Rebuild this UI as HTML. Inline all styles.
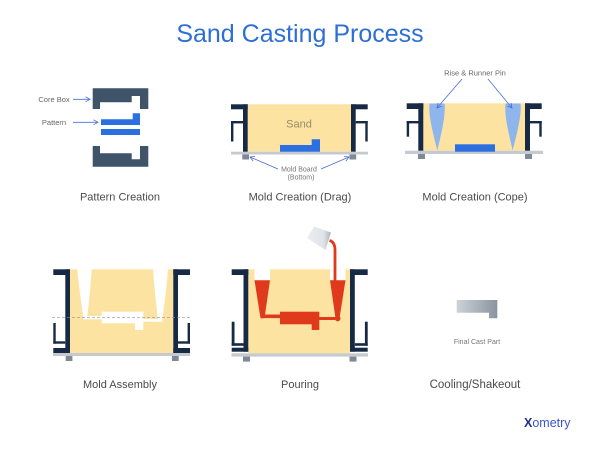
<!DOCTYPE html>
<html><head><meta charset="utf-8"><style>
html,body{margin:0;padding:0;background:#fff;}
svg{display:block;}
text{font-family:"Liberation Sans",sans-serif;}
</style></head><body>
<svg width="600" height="449" viewBox="0 0 600 449" xmlns="http://www.w3.org/2000/svg">
<defs>
<marker id="ah" markerWidth="6" markerHeight="6" refX="5" refY="3" orient="auto" markerUnits="userSpaceOnUse">
<path d="M0.5,0.5 L5,3 L0.5,5.5" fill="none" stroke="#4a6fd6" stroke-width="0.8"/>
</marker>
<linearGradient id="gp" x1="0" y1="0" x2="1" y2="0">
<stop offset="0" stop-color="#cdd2d8"/><stop offset="1" stop-color="#8a949f"/>
</linearGradient>
<linearGradient id="gl" x1="0" y1="0" x2="1" y2="0">
<stop offset="0" stop-color="#eceef1"/><stop offset="0.7" stop-color="#dfe3e7"/><stop offset="1" stop-color="#aab2bb"/>
</linearGradient>
</defs>
<rect width="600" height="449" fill="#fff"/>
<text x="300" y="42" text-anchor="middle" font-size="25" fill="#2d6fd6">Sand Casting Process</text>

<!-- Pattern Creation -->
<path d="M92.7,88.3 H148.3 V109 H140 V96 H131.7 V102.3 H100 V109 H92.7 Z" fill="#3f5468"/>
<path d="M92.7,166.7 H148.3 V146 H140 V159.3 H131.7 V153.3 H100 V146 H92.7 Z" fill="#3f5468"/>
<path d="M101,119.3 H132.7 V113.3 H140 V125 H101 Z" fill="#2c6fe0"/>
<rect x="101" y="129" width="39" height="6" fill="#2c6fe0"/>
<text x="54" y="102" text-anchor="middle" font-size="7.5" fill="#666">Core Box</text>
<text x="54" y="125" text-anchor="middle" font-size="7.5" fill="#666">Pattern</text>
<line x1="73" y1="99.3" x2="90" y2="99.3" stroke="#4a6fd6" stroke-width="0.8" marker-end="url(#ah)"/>
<line x1="73" y1="122.3" x2="98" y2="122.3" stroke="#4a6fd6" stroke-width="0.8" marker-end="url(#ah)"/>
<text x="120" y="200.5" text-anchor="middle" font-size="11" fill="#4a4a4a">Pattern Creation</text>

<!-- Drag -->
<rect x="247.7" y="104.3" width="103.3" height="47.4" fill="#fce3a2"/>
<rect x="231" y="151.7" width="137" height="2.8" fill="#c5cad0"/>
<rect x="242.3" y="154.5" width="6.7" height="5" fill="#7f8a96"/>
<rect x="349.5" y="154.5" width="6.7" height="5" fill="#7f8a96"/>
<g fill="#172a45">
<rect x="231" y="104.3" width="16.7" height="5"/>
<rect x="243" y="104.3" width="4.7" height="47.4"/>
<rect x="231" y="121" width="12" height="2.4"/>
<rect x="231" y="121" width="2.4" height="20.5"/>
<rect x="351" y="104.3" width="16.7" height="5"/>
<rect x="351" y="104.3" width="4.7" height="47.4"/>
<rect x="355.7" y="121" width="12" height="2.4"/>
<rect x="365.3" y="121" width="2.4" height="20.5"/>
</g>
<path d="M280,145 H311.7 V139.3 H320 V151.7 H280 Z" fill="#2c6fe0"/>
<text x="299" y="127.5" text-anchor="middle" font-size="11" fill="#9a8a68">Sand</text>
<text x="299" y="171.5" text-anchor="middle" font-size="7" fill="#777">Mold Board</text>
<text x="301" y="179.5" text-anchor="middle" font-size="7" fill="#777">(Bottom)</text>
<line x1="278" y1="169" x2="250" y2="157" stroke="#4a6fd6" stroke-width="0.8" marker-end="url(#ah)"/>
<line x1="321" y1="169" x2="349" y2="157" stroke="#4a6fd6" stroke-width="0.8" marker-end="url(#ah)"/>
<text x="300" y="200.5" text-anchor="middle" font-size="11" fill="#4a4a4a">Mold Creation (Drag)</text>

<!-- Cope -->
<rect x="423.3" y="103.3" width="101.7" height="47.4" fill="#fce3a2"/>
<rect x="405" y="150.7" width="138" height="3.3" fill="#c5cad0"/>
<rect x="418" y="154" width="7" height="5" fill="#7f8a96"/>
<rect x="525" y="154" width="7" height="5" fill="#7f8a96"/>
<g fill="#172a45">
<rect x="406.7" y="103.3" width="16.6" height="5.7"/>
<rect x="418.3" y="103.3" width="5" height="47.4"/>
<rect x="406.7" y="121" width="12" height="2.4"/>
<rect x="406.7" y="121" width="2.4" height="15.7"/>
<rect x="525" y="103.3" width="16.7" height="5.7"/>
<rect x="525" y="103.3" width="5" height="47.4"/>
<rect x="530" y="121" width="11.7" height="2.4"/>
<rect x="539.3" y="121" width="2.4" height="15.7"/>
</g>
<path d="M429.5,103.5 L444.5,103.5 C446,115 441,135 437.3,150.5 C433.5,135 428,115 429.5,103.5 Z" fill="#8fb6ec"/>
<path d="M505.5,103.5 L520.5,103.5 C522,115 516.5,135 512.7,150.5 C509,135 504,115 505.5,103.5 Z" fill="#8fb6ec"/>
<rect x="455" y="144.3" width="40" height="7.4" fill="#2c6fe0"/>
<text x="475" y="75.5" text-anchor="middle" font-size="7.5" fill="#666">Rise &amp; Runner Pin</text>
<line x1="462" y1="79" x2="437" y2="108" stroke="#4a6fd6" stroke-width="0.8" marker-end="url(#ah)"/>
<line x1="488" y1="79" x2="512" y2="108" stroke="#4a6fd6" stroke-width="0.8" marker-end="url(#ah)"/>
<text x="475" y="200.5" text-anchor="middle" font-size="11" fill="#4a4a4a">Mold Creation (Cope)</text>

<!-- Assembly -->
<rect x="70" y="269.3" width="103.3" height="83.7" fill="#fce3a2"/>
<rect x="53" y="353" width="137" height="3" fill="#c5cad0"/>
<rect x="65.7" y="356" width="6.7" height="5" fill="#7f8a96"/>
<rect x="172" y="356" width="6.7" height="5" fill="#7f8a96"/>
<g fill="#172a45">
<rect x="53.3" y="269.3" width="16.7" height="5.7"/>
<rect x="65.3" y="269.3" width="4.7" height="83.7"/>
<rect x="53.3" y="348" width="16.7" height="5"/>
<rect x="53.3" y="341.3" width="12" height="2.4"/>
<rect x="53.3" y="323" width="2.4" height="20.7"/>
<rect x="173.3" y="269.3" width="16.7" height="5.7"/>
<rect x="173.3" y="269.3" width="4.7" height="83.7"/>
<rect x="173.3" y="348" width="16.7" height="5"/>
<rect x="178" y="341.3" width="12" height="2.4"/>
<rect x="187.6" y="323" width="2.4" height="20.7"/>
</g>
<g fill="#fff">
<path d="M77.3,269.3 L91.7,269.3 C90.5,290 88.5,305 87.3,316.5 L83,316.5 C82,305 79,290 77.3,269.3 Z"/>
<path d="M153,269.3 L168,269.3 C166.5,292 163.5,308 162.3,321.7 L158,321.7 C157,308 154.5,292 153,269.3 Z"/>
<rect x="83" y="316" width="20" height="3.3"/>
<rect x="101.7" y="311.7" width="41.6" height="11.6"/>
<rect x="135" y="323" width="8.3" height="7"/>
<rect x="142" y="319" width="20.3" height="2.7"/>
</g>
<line x1="52" y1="317.3" x2="190" y2="317.3" stroke="#8a8fb8" stroke-width="0.7" stroke-dasharray="3,2"/>
<text x="120" y="388" text-anchor="middle" font-size="11" fill="#4a4a4a">Mold Assembly</text>

<!-- Pouring -->
<rect x="248.3" y="269.3" width="101.7" height="84" fill="#fce3a2"/>
<rect x="231.5" y="353.3" width="136.5" height="3.3" fill="#c5cad0"/>
<rect x="243" y="356.6" width="7" height="5" fill="#7f8a96"/>
<rect x="349.5" y="356.6" width="7" height="5" fill="#7f8a96"/>
<g fill="#172a45">
<rect x="231.7" y="269.3" width="16.6" height="5.7"/>
<rect x="243.5" y="269.3" width="4.8" height="82.4"/>
<rect x="231.7" y="347.7" width="16.6" height="4"/>
<rect x="231.7" y="343.2" width="12" height="2.6"/>
<rect x="231.7" y="321.7" width="2.8" height="24"/>
<rect x="350" y="269.3" width="17.7" height="5.7"/>
<rect x="350" y="269.3" width="4.8" height="82.4"/>
<rect x="350" y="347.7" width="17.7" height="4"/>
<rect x="354.8" y="343.2" width="12.9" height="2.6"/>
<rect x="364.9" y="321.7" width="2.8" height="24"/>
</g>
<rect x="254.5" y="269.3" width="15.5" height="11" fill="#fff"/>
<rect x="330" y="269.3" width="15.5" height="11" fill="#fff"/>
<g fill="#e03a1c">
<path d="M254.5,280.3 L270,280.3 L264.5,318.3 L260.5,318.3 Z"/>
<path d="M330,280.3 L345.5,280.3 L339.5,318.3 L335.5,318.3 Z"/>
<rect x="261" y="314.5" width="20" height="3.6"/>
<rect x="280" y="311.7" width="39.3" height="12.6"/>
<rect x="311.7" y="324" width="7.6" height="6"/>
<rect x="318.5" y="317" width="19" height="3"/>
<circle cx="337.7" cy="318.5" r="2.8"/>
</g>
<path d="M307,238 L314,226.5 L331,232.5 L325.5,250 Z" fill="url(#gl)"/>
<path d="M329.5,240.5 Q335,242 335,250 L335,282" fill="none" stroke="#e03a1c" stroke-width="2.8"/>
<text x="300" y="388" text-anchor="middle" font-size="11" fill="#4a4a4a">Pouring</text>

<!-- Cooling -->
<path d="M456.7,300 H497.3 V318.3 H489 V312.7 H456.7 Z" fill="url(#gp)"/>
<text x="477" y="344" text-anchor="middle" font-size="7" fill="#777">Final Cast Part</text>
<text x="475" y="388" text-anchor="middle" font-size="11.5" fill="#4a4a4a">Cooling/Shakeout</text>
<text x="524" y="427" font-size="12.5" fill="#3a55cf"><tspan font-weight="bold" fill="#1f2f8f">X</tspan>ometry</text>
</svg>
</body></html>
